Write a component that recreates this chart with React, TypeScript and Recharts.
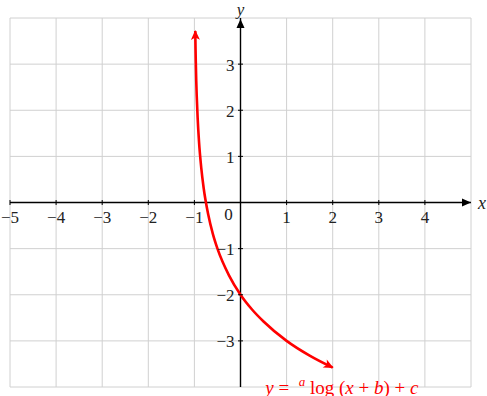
import { LineChart, Line, XAxis, YAxis, CartesianGrid, ReferenceLine, ReferenceDot } from 'recharts'

// grid / axis values
const xTicks = [-5, -4, -3, -2, -1, 0, 1, 2, 3, 4, 5]
const yTicks = [-4, -3, -2, -1, 0, 1, 2, 3, 4]
const xLabels = [-5, -4, -3, -2, -1, 1, 2, 3, 4]
const yLabels = [-3, -2, -1, 1, 2, 3]

// points
const curveX = [-0.981, -0.975, -0.97, -0.96, -0.95, -0.93, -0.9, -0.85, -0.8, -0.7, -0.6, -0.5, -0.25, 0, 0.25, 0.5, 1, 1.5, 2]
const curveY = [3.72, 3.32, 3.06, 2.64, 2.32, 1.84, 1.32, 0.74, 0.32, -0.26, -0.68, -1, -1.58, -2, -2.32, -2.58, -3, -3.32, -3.58]

const data = curveX.map((x, i) => ({ x, y: curveY[i] }))

const FONT = '"Liberation Serif", "Times New Roman", "DejaVu Serif", serif'
const RED = '#ff0000'
const fmt = (v: number) => (v < 0 ? `\u2212${Math.abs(v)}` : `${v}`)
const txt = { fontFamily: FONT }

// arrow head at both ends of the curve
const CurveArrow = (props: any) => {
  const { cx, cy, index } = props
  const last = curveX.length - 1
  if (index !== 0 && index !== last) return <g key={`d-${index}`} />
  const j = index === 0 ? 1 : last - 1
  const dx = curveX[index] - curveX[j]
  const dy = -(curveY[index] - curveY[j])
  const ang = (Math.atan2(dy, dx) * 180) / Math.PI
  return (
    <path
      key={`d-${index}`}
      d="M1,0 L-9,-4.5 L-6.5,0 L-9,4.5 Z"
      transform={`translate(${cx},${cy}) rotate(${ang})`}
      fill={RED}
    />
  )
}

const XTick = (v: number) => (p: any) => (
  <g>
    <line x1={p.cx} y1={p.cy - 2.5} x2={p.cx} y2={p.cy + 2.5} stroke="#000" strokeWidth={1} />
    <text x={p.cx} y={p.cy + 15} textAnchor="middle" dominantBaseline="central" style={txt} fontSize={17} fill="#222">
      {fmt(v)}
    </text>
  </g>
)

const YTick = (v: number) => (p: any) => (
  <g>
    <line x1={p.cx - 2.5} y1={p.cy} x2={p.cx + 2.5} y2={p.cy} stroke="#000" strokeWidth={1} />
    <text x={p.cx - 6} y={p.cy + 1} textAnchor="end" dominantBaseline="central" style={txt} fontSize={17} fill="#222">
      {fmt(v)}
    </text>
  </g>
)

export default function App() {
  return (
    <div style={{ position: 'absolute', left: 0, top: 0, width: 487, height: 396, background: '#fff' }}>
      <LineChart width={487} height={396} data={data} margin={{ top: 18, right: 16, bottom: 9, left: 10 }}>
        <XAxis type="number" dataKey="x" domain={[-5, 5]} ticks={xTicks} hide allowDataOverflow />
        <YAxis type="number" domain={[-4, 4]} ticks={yTicks} hide allowDataOverflow />
        <CartesianGrid stroke="#d0d0d0" strokeWidth={1} />
        <ReferenceLine y={0} stroke="#000" strokeWidth={1.4} />
        <ReferenceLine x={0} stroke="#000" strokeWidth={1.4} />
        {xLabels.map((v) => (
          <ReferenceDot key={`xt${v}`} x={v} y={0} r={0} ifOverflow="visible" shape={XTick(v)} />
        ))}
        {yLabels.map((v) => (
          <ReferenceDot key={`yt${v}`} x={0} y={v} r={0} ifOverflow="visible" shape={YTick(v)} />
        ))}
        <ReferenceDot
          x={0}
          y={0}
          r={0}
          ifOverflow="visible"
          shape={(p: any) => (
            <text x={p.cx - 12} y={p.cy + 12} textAnchor="middle" dominantBaseline="central" style={txt} fontSize={17} fill="#222">
              0
            </text>
          )}
        />
        <ReferenceDot
          x={5}
          y={0}
          r={0}
          ifOverflow="visible"
          shape={(p: any) => (
            <g>
              <path d={`M${p.cx},${p.cy} L${p.cx - 9},${p.cy - 4} L${p.cx - 9},${p.cy + 4} Z`} fill="#000" />
              <text x={p.cx + 11} y={p.cy} textAnchor="middle" dominantBaseline="central" style={txt} fontStyle="italic" fontSize={18} fill="#222">
                x
              </text>
            </g>
          )}
        />
        <ReferenceDot
          x={0}
          y={4}
          r={0}
          ifOverflow="visible"
          shape={(p: any) => (
            <g>
              <path d={`M${p.cx},${p.cy + 1} L${p.cx - 4},${p.cy + 10} L${p.cx + 4},${p.cy + 10} Z`} fill="#000" />
              <text x={p.cx} y={p.cy - 9} textAnchor="middle" dominantBaseline="central" style={txt} fontStyle="italic" fontSize={17} fill="#222">
                y
              </text>
            </g>
          )}
        />
        <Line
          type="monotone"
          dataKey="y"
          stroke={RED}
          strokeWidth={2.6}
          dot={CurveArrow}
          activeDot={false}
          isAnimationActive={false}
        />
        <ReferenceDot
          x={2.2}
          y={-4}
          r={0}
          ifOverflow="visible"
          shape={(p: any) => (
            <text x={p.cx} y={p.cy} textAnchor="middle" dominantBaseline="central" style={txt} fontSize={19} fill={RED}>
              <tspan fontStyle="italic">y</tspan>
              <tspan>{'\u00a0=\u00a0\u00a0'}</tspan>
              <tspan fontStyle="italic" fontSize={13} dy={-6}>a</tspan>
              <tspan dy={6}>{'\u00a0log\u00a0('}</tspan>
              <tspan fontStyle="italic">x</tspan>
              <tspan>{'\u00a0+\u00a0'}</tspan>
              <tspan fontStyle="italic">b</tspan>
              <tspan>{')\u00a0+\u00a0'}</tspan>
              <tspan fontStyle="italic">c</tspan>
            </text>
          )}
        />
      </LineChart>
    </div>
  )
}
